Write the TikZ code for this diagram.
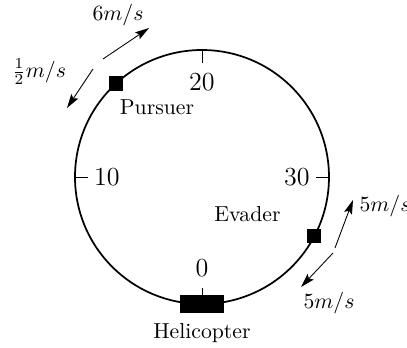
\documentclass[tikz,border=0pt]{standalone}
\usepackage{amsmath}
\usetikzlibrary{arrows.meta, positioning}

\begin{document}
\begin{tikzpicture}[
        x=0.461pt, y=0.461pt,
        track/.style={line width=0.8pt},
        tick/.style={line width=0.4pt},
        mark label/.style={font=\large, inner sep=1pt},
        agent/.style={rectangle, fill=black, minimum size=6.5pt, inner sep=0pt},
        helibox/.style={rectangle, fill=black, minimum width=20.3pt, minimum height=8.3pt, inner sep=0pt},
        tag/.style={font=\normalsize, inner sep=1pt},
        speed/.style={font=\normalsize, inner sep=1pt},
        arrow/.style={line width=0.4pt, -{Stealth[length=6.5pt, width=3.8pt, inset=1.2pt]}}
    ]
        \useasboundingbox (-202,-171) rectangle (205,177);

        % Track with distance marks
        \draw[track] (0,0) circle (127);
        \foreach \ang/\lab in {90/20, 180/10, 0/30} {
            \draw[tick] (\ang:127) -- (\ang:114);
            \node[mark label] at (\ang:95) {\lab};
        }
        \draw[tick] (270:127) -- (270:111);
        \node[mark label] (zero) at (0,-91) {0};

        % Helicopter
        \node (heli) [helibox] at (0,-127) {};
        \node (helilab) [tag] at (0,-156) {Helicopter};

        % Pursuer
        \node (pursuer) [agent] at (132.6:127) {};
        \node (pursuerlab) [tag] at (-45,70) {Pursuer};
        \coordinate (p1) at (-99,118);
        \coordinate (p2) at (-53,149);
        \coordinate (p3) at (-109,108);
        \coordinate (p4) at (-135,69);
        \draw[arrow] (p1) -- (p2);
        \draw[arrow] (p3) -- (p4);
        \node (pfast) [speed] at (-84,162) {$6m/s$};
        \node (pslow) [speed] at (-163,105) {$\frac{1}{2}m/s$};

        % Evader
        \node (evader) [agent] at (-27.7:127) {};
        \node (evaderlab) [tag] at (45.5,-37) {Evader};
        \coordinate (e1) at (133,-71);
        \coordinate (e2) at (151,-23);
        \coordinate (e3) at (131,-76);
        \coordinate (e4) at (99,-110);
        \draw[arrow] (e1) -- (e2);
        \draw[arrow] (e3) -- (e4);
        \node (eup) [speed, anchor=west] at (155,-29) {$5m/s$};
        \node (edown) [speed] at (127,-126) {$5m/s$};
    \end{tikzpicture}
\end{document}
